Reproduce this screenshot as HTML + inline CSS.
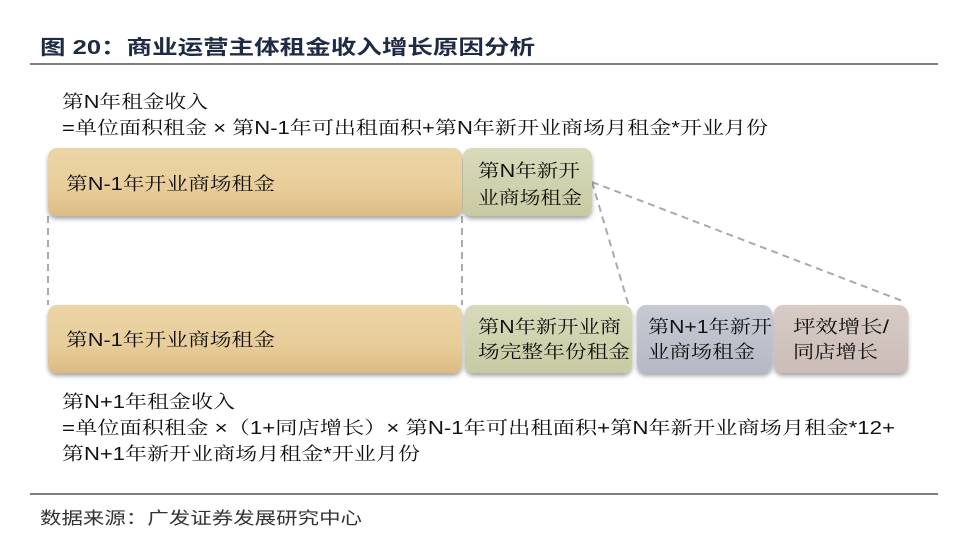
<!DOCTYPE html>
<html><head><meta charset="utf-8">
<style>
html,body{margin:0;padding:0;background:#fff;}
svg{display:block;}
text{font-family:"Liberation Sans","Noto Serif CJK SC",serif;fill:#111;}
.t{font-family:"Liberation Sans","Noto Sans CJK SC",sans-serif;font-weight:bold;fill:#1f2a44;}
.s{font-family:"Liberation Sans","Noto Sans CJK SC",sans-serif;fill:#333;}
</style></head><body>
<svg width="956" height="558" viewBox="0 0 956 558" xmlns="http://www.w3.org/2000/svg">
<defs>
<linearGradient id="g1" x1="0" y1="0" x2="0" y2="1"><stop offset="0" stop-color="#ebd4a6"/><stop offset="0.6" stop-color="#e8cd99"/><stop offset="1" stop-color="#dcbb83"/></linearGradient>
<linearGradient id="g2" x1="0" y1="0" x2="0" y2="1"><stop offset="0" stop-color="#d8dbbb"/><stop offset="1" stop-color="#c7caa2"/></linearGradient>
<linearGradient id="g3" x1="0" y1="0" x2="0" y2="1"><stop offset="0" stop-color="#c6cad4"/><stop offset="1" stop-color="#b5b9c5"/></linearGradient>
<linearGradient id="g4" x1="0" y1="0" x2="0" y2="1"><stop offset="0" stop-color="#d8cbc6"/><stop offset="1" stop-color="#cbbcb7"/></linearGradient>
<filter id="sh" x="-10%" y="-10%" width="120%" height="140%"><feDropShadow dx="0" dy="3" stdDeviation="2" flood-color="#000" flood-opacity="0.35"/></filter>
</defs>
<text class="t" x="40" y="54" font-size="20" textLength="495" lengthAdjust="spacingAndGlyphs">图 20：商业运营主体租金收入增长原因分析</text>
<line x1="30" y1="64" x2="938" y2="64" stroke="#555" stroke-width="1.5"/>
<text x="62" y="108" font-size="18" textLength="146" lengthAdjust="spacingAndGlyphs">第N年租金收入</text>
<text x="62" y="134" font-size="18" textLength="706" lengthAdjust="spacingAndGlyphs">=单位面积租金 × 第N-1年可出租面积+第N年新开业商场月租金*开业月份</text>
<g stroke="#aaa" stroke-width="2" stroke-dasharray="7,5" fill="none">
<line x1="48" y1="216" x2="48" y2="305"/>
<line x1="462" y1="216" x2="462" y2="305"/>
<line x1="592" y1="182" x2="630" y2="310"/>
<line x1="592" y1="182" x2="905" y2="302"/>
</g>
<g filter="url(#sh)">
<rect x="48" y="148" width="414" height="68" rx="9" fill="url(#g1)"/>
<rect x="463" y="148" width="129" height="68" rx="9" fill="url(#g2)"/>
<rect x="48" y="305" width="414" height="68" rx="9" fill="url(#g1)"/>
<rect x="465" y="305" width="167" height="68" rx="9" fill="url(#g2)"/>
<rect x="637" y="305" width="135" height="68" rx="9" fill="url(#g3)"/>
<rect x="774" y="305" width="134" height="68" rx="9" fill="url(#g4)"/>
</g>
<text x="66" y="190" font-size="18" textLength="209" lengthAdjust="spacingAndGlyphs">第N-1年开业商场租金</text>
<text x="478" y="177" font-size="18" textLength="102" lengthAdjust="spacingAndGlyphs">第N年新开</text>
<text x="478" y="204" font-size="18" textLength="104" lengthAdjust="spacingAndGlyphs">业商场租金</text>
<text x="66" y="346" font-size="18" textLength="209" lengthAdjust="spacingAndGlyphs">第N-1年开业商场租金</text>
<text x="478" y="333" font-size="18" textLength="143" lengthAdjust="spacingAndGlyphs">第N年新开业商</text>
<text x="478" y="358" font-size="18" textLength="152" lengthAdjust="spacingAndGlyphs">场完整年份租金</text>
<text x="648" y="333" font-size="18" textLength="124" lengthAdjust="spacingAndGlyphs">第N+1年新开</text>
<text x="648" y="358" font-size="18" textLength="107" lengthAdjust="spacingAndGlyphs">业商场租金</text>
<text x="793" y="333" font-size="18" textLength="96" lengthAdjust="spacingAndGlyphs">坪效增长/</text>
<text x="793" y="358" font-size="18" textLength="85" lengthAdjust="spacingAndGlyphs">同店增长</text>
<text x="62" y="408" font-size="18" textLength="173" lengthAdjust="spacingAndGlyphs">第N+1年租金收入</text>
<text x="62" y="434" font-size="18" textLength="833" lengthAdjust="spacingAndGlyphs">=单位面积租金 ×（1+同店增长）× 第N-1年可出租面积+第N年新开业商场月租金*12+</text>
<text x="62" y="460" font-size="18" textLength="358" lengthAdjust="spacingAndGlyphs">第N+1年新开业商场月租金*开业月份</text>
<line x1="30" y1="494" x2="938" y2="494" stroke="#555" stroke-width="1.5"/>
<text class="s" x="40" y="524" font-size="17" textLength="322" lengthAdjust="spacingAndGlyphs">数据来源：广发证券发展研究中心</text>
</svg>
</body></html>
